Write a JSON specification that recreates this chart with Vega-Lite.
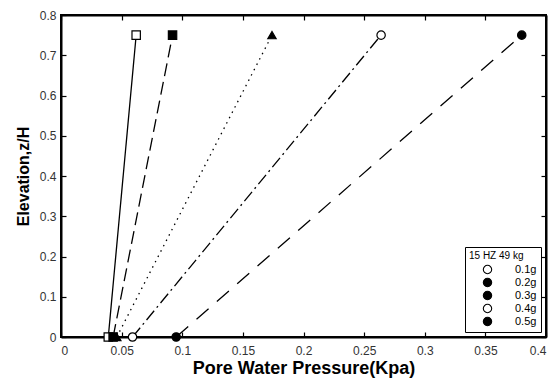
{
  "$schema": "https://vega.github.io/schema/vega-lite/v6.json",
  "width": 485,
  "height": 322,
  "autosize": {"type": "none"},
  "padding": {"left": 61, "top": 15, "right": 11, "bottom": 42},
  "background": "white",
  "config": {
    "view": {"stroke": "black", "strokeWidth": 2},
    "font": "Liberation Sans",
    "axis": {
      "grid": false,
      "domainColor": "black",
      "domainWidth": 2,
      "tickColor": "black",
      "tickWidth": 1.2,
      "tickSize": -5,
      "labelFont": "Liberation Sans",
      "labelFontSize": 12,
      "labelColor": "#333333",
      "titleFont": "Liberation Sans",
      "titleFontWeight": "bold",
      "titleColor": "black"
    },
    "legend": {
      "orient": "bottom-right",
      "offset": 5,
      "strokeColor": "black",
      "fillColor": "white",
      "padding": 4,
      "titleFont": "Liberation Sans",
      "titleFontSize": 10,
      "titleFontWeight": "normal",
      "titleColor": "black",
      "titlePadding": 3,
      "labelFont": "Liberation Sans",
      "labelFontSize": 11,
      "labelColor": "black",
      "labelOffset": 22,
      "symbolOffset": 13,
      "rowPadding": 0,
      "symbolStrokeColor": "black",
      "symbolStrokeWidth": 1.1,
      "symbolSize": 70
    }
  },
  "title": {
    "text": "[Figure 6]\u00a0\u00a0\u00a0\u00a0Variation\u00a0\u00a0\u00a0\u00a0\u00a0\u00a0\u00a0\u00a0of",
    "orient": "bottom",
    "anchor": "start",
    "font": "Liberation Serif",
    "fontSize": 29,
    "fontWeight": "normal",
    "color": "black",
    "baseline": "top",
    "offset": 1,
    "dx": -20
  },
  "data": {
    "values": [
      {"series": "0.1g", "acc": "0.1g", "p": 0.039, "z": 0},
      {"series": "0.1g", "acc": "0.1g", "p": 0.062, "z": 0.75},
      {"series": "0.2g", "acc": "0.2g", "p": 0.043, "z": 0},
      {"series": "0.2g", "acc": "0.2g", "p": 0.092, "z": 0.75},
      {"series": "0.3g", "acc": "0.3g", "p": 0.046, "z": 0},
      {"series": "0.3g", "acc": "0.3g", "p": 0.174, "z": 0.75},
      {"series": "0.4g", "acc": "0.4g", "p": 0.059, "z": 0},
      {"series": "0.4g", "acc": "0.4g", "p": 0.264, "z": 0.75},
      {"series": "0.5g", "acc": "0.5g", "p": 0.095, "z": 0},
      {"series": "0.5g", "acc": "0.5g", "p": 0.380, "z": 0.75}
    ]
  },
  "resolve": {"axis": {"x": "independent", "y": "independent"}},
  "layer": [
    {
      "mark": {"type": "line", "color": "black", "strokeWidth": 1.3},
      "encoding": {
        "x": {
          "field": "p", "type": "quantitative",
          "scale": {"domain": [0, 0.4], "nice": false},
          "axis": {"values": [0, 0.05, 0.1, 0.15, 0.2, 0.25, 0.3, 0.35, 0.4], "format": ".2~f", "labelPadding": 13, "title": "Pore Water Pressure(Kpa)", "titleFontSize": 18, "titlePadding": 3}
        },
        "y": {
          "field": "z", "type": "quantitative",
          "scale": {"domain": [0, 0.8], "nice": false},
          "axis": {"values": [0, 0.1, 0.2, 0.3, 0.4, 0.5, 0.6, 0.7, 0.8], "format": ".1~f", "labelPadding": 10, "title": "Elevation,z/H", "titleFontSize": 16, "titlePadding": 8}
        },
        "detail": {"field": "series"},
        "strokeDash": {
          "field": "series", "type": "nominal",
          "scale": {"domain": ["0.1g", "0.2g", "0.3g", "0.4g", "0.5g"], "range": [[1, 0], [13, 6], [1.5, 4.5], [12, 4, 2, 4], [16, 11]]},
          "legend": null
        }
      }
    },
    {
      "mark": {"type": "point", "stroke": "black", "strokeWidth": 1.2, "opacity": 1, "size": 70},
      "encoding": {
        "x": {"field": "p", "type": "quantitative", "axis": null},
        "y": {"field": "z", "type": "quantitative", "axis": null},
        "shape": {
          "field": "series", "type": "nominal",
          "scale": {"domain": ["0.1g", "0.2g", "0.3g", "0.4g", "0.5g"], "range": ["square", "square", "triangle-up", "circle", "circle"]},
          "legend": null
        },
        "fill": {
          "field": "acc", "type": "nominal",
          "scale": {"range": ["white", "black", "black", "white", "black"]},
          "legend": {
            "title": "15 HZ 49 kg",
            "encode": {
              "symbols": {
                "update": {
                  "stroke": {"value": "black"},
                  "strokeWidth": {"value": 1.1},
                  "shape": {"signal": "datum.value === '0.1g' || datum.value === '0.2g' ? 'square' : datum.value === '0.3g' ? 'triangle-up' : 'circle'"}
                }
              }
            }
          }
        }
      }
    },
    {
      "mark": {"type": "point", "opacity": 0},
      "encoding": {
        "x": {"field": "p", "type": "quantitative", "axis": {"orient": "top", "values": [0, 0.05, 0.1, 0.15, 0.2, 0.25, 0.3, 0.35, 0.4], "labels": false, "title": null}},
        "y": {"field": "z", "type": "quantitative", "axis": {"orient": "right", "values": [0, 0.1, 0.2, 0.3, 0.4, 0.5, 0.6, 0.7, 0.8], "labels": false, "title": null}}
      }
    }
  ]
}
